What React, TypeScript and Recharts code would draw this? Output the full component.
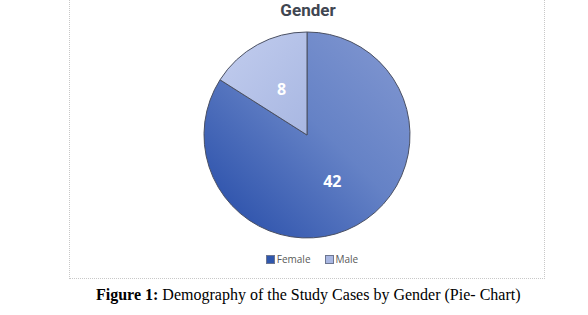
import { Cell, Legend, Pie, PieChart } from "recharts";

const genders = ["Female", "Male"];
const counts = [42, 8];

const data = genders.map((name, i) => ({ name, value: counts[i] }));
const fills = ["url(#grad-female)", "url(#grad-male)"];
const legendColors = ["#2f57ad", "#a9b7e2"];

const RAD = Math.PI / 180;

const renderLabel = (props: any) => {
  const { cx, cy, midAngle, outerRadius, value } = props;
  const r = outerRadius * 0.51;
  const x = cx + r * Math.cos(-midAngle * RAD);
  const y = cy + r * Math.sin(-midAngle * RAD);
  return (
    <text
      x={x}
      y={y}
      fill="#ffffff"
      textAnchor="middle"
      dominantBaseline="central"
      fontFamily="'Open Sans', sans-serif"
      fontWeight={700}
      fontSize={16}
    >
      {value}
    </text>
  );
};

const renderLegend = () => (
  <div style={{ display: "flex", justifyContent: "center", gap: 14, fontFamily: "'Open Sans', sans-serif", fontSize: 10, color: "#595959" }}>
    {data.map((d, i) => (
      <span key={d.name} style={{ display: "flex", alignItems: "center" }}>
        <span style={{ width: 7, height: 7, background: legendColors[i], border: "1px solid #6d7690", marginRight: 2 }} />
        {d.name}
      </span>
    ))}
  </div>
);

export default function App() {
  return (
    <div style={{ position: "absolute", left: 0, top: 0, width: 588, height: 315, background: "#fff" }}>
      <div
        style={{
          position: "absolute",
          left: 69,
          top: 0,
          width: 476,
          height: 279,
          borderLeft: "1px dotted #c8c8c8",
          borderRight: "1px dotted #c8c8c8",
          borderBottom: "1px dotted #c8c8c8",
          boxSizing: "border-box",
        }}
      />
      <div
        style={{
          position: "absolute",
          left: 0,
          width: 588,
          top: 0,
          textAlign: "center",
          paddingLeft: 28,
          boxSizing: "border-box",
          fontFamily: "Roboto, sans-serif",
          fontWeight: 700,
          fontSize: 17,
          color: "#3f4651",
        }}
      >
        Gender
      </div>
      <PieChart
        width={588}
        height={275}
        margin={{ top: 0, right: 0, bottom: 0, left: 0 }}
        style={{ position: "absolute", left: 0, top: 0 }}
      >
        <defs>
          <linearGradient id="grad-female" x1="0" y1="1" x2="1" y2="0">
            <stop offset="0%" stopColor="#2148a6" />
            <stop offset="55%" stopColor="#6582c6" />
            <stop offset="100%" stopColor="#8499d2" />
          </linearGradient>
          <linearGradient id="grad-male" x1="0" y1="0" x2="1" y2="1">
            <stop offset="0%" stopColor="#c2cdee" />
            <stop offset="100%" stopColor="#a8b7e2" />
          </linearGradient>
        </defs>
        <Pie
          data={data}
          dataKey="value"
          nameKey="name"
          cx={307}
          cy={135}
          outerRadius={103}
          startAngle={90}
          endAngle={-270}
          stroke="#4a5063"
          strokeWidth={1}
          label={renderLabel}
          labelLine={false}
          isAnimationActive={false}
        >
          {data.map((d, i) => (
            <Cell key={d.name} fill={fills[i]} />
          ))}
        </Pie>
        <Legend content={renderLegend} wrapperStyle={{ top: 252, left: 32, width: 560 }} />
      </PieChart>
      <div
        style={{
          position: "absolute",
          left: 96,
          top: 286,
          fontFamily: "'Liberation Serif', 'Times New Roman', serif",
          fontSize: 16,
          color: "#000",
          whiteSpace: "nowrap",
        }}
      >
        <b>Figure 1:</b> Demography of the Study Cases by Gender (Pie- Chart)
      </div>
    </div>
  );
}
